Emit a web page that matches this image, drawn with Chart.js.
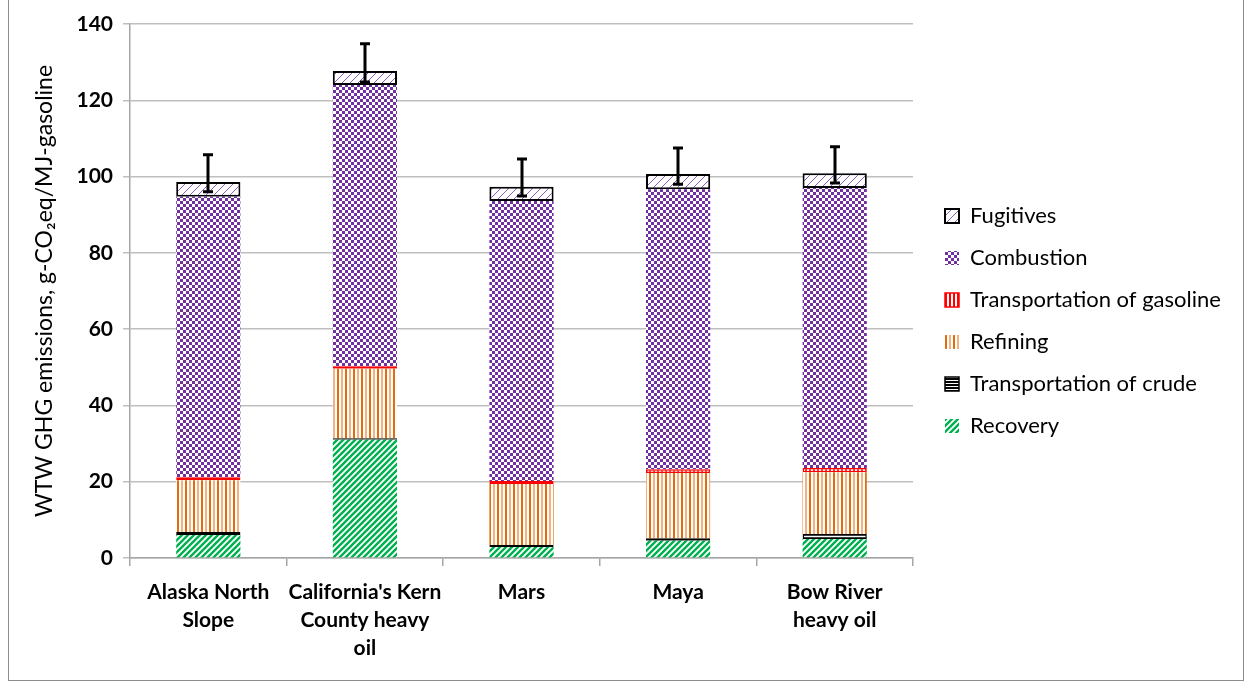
<!DOCTYPE html>
<html>
<head>
<meta charset="utf-8">
<script src="https://cdn.jsdelivr.net/npm/chart.js@4.4.0/dist/chart.umd.min.js"></script>
<style>
  body { margin: 0; background: #fff; }
  .frame {
    position: absolute; left: 8px; top: -1px;
    width: 1234px; height: 680px;
    border: 1.5px solid #8c8c8c; background: #fff;
  }
</style>
</head>
<body>
<div class="frame"><canvas id="ghg__chart" width="1234" height="680"></canvas></div>
<script>
// well-to-wheel GHG emissions per crude, stacked by stage (g-CO2eq/MJ gasoline)
const categories = [["Alaska North", "Slope"], ["California's Kern", "County heavy", "oil"], "Mars", "Maya", ["Bow River", "heavy oil"]];
const recovery = [6.0, 31.0, 2.9, 4.5, 5.0];
const crudeTransport = [0.8, 0.4, 0.5, 0.7, 1.3];
const refining = [13.6, 18.2, 16.0, 17.1, 16.2];
const gasolineTransport = [0.8, 0.7, 0.8, 1.0, 1.1];
const combustion = [73.5, 73.7, 73.4, 73.4, 73.4];
const fugitives = [3.9, 3.7, 3.7, 4.0, 3.9];
// error bar extents above / below the total
const errorPlus = [7.1, 7.1, 7.3, 6.8, 6.9];
const errorMinus = [2.6, 2.9, 2.4, 2.7, 2.6];
const yMin = 0, yMax = 140, yStep = 20;

function makePattern(w, h, draw) {
    const c = document.createElement('canvas');
    c.width = w; c.height = h;
    const g = c.getContext('2d');
    g.fillStyle = '#fff';
    g.fillRect(0, 0, w, h);
    draw(g);
    return document.getElementById('ghg__chart').getContext('2d').createPattern(c, 'repeat');
}

const greenStripes = makePattern(6, 6, function (g) {
    g.strokeStyle = '#00B050';
    g.lineWidth = 2.4;
    g.beginPath();
    g.moveTo(-3, 3); g.lineTo(3, -3);
    g.moveTo(0, 6); g.lineTo(6, 0);
    g.moveTo(3, 9); g.lineTo(9, 3);
    g.stroke();
});
const blackLines = makePattern(3, 3, function (g) {
    g.fillStyle = '#000';
    g.fillRect(0, 0, 3, 2);
});
const orangeLines = makePattern(8, 4, function (g) {
    g.fillStyle = '#E46C0A';
    g.fillRect(0, 0, 2, 4);
    g.fillStyle = '#F4B183';
    g.fillRect(4, 0, 2, 4);
});
const redLines = makePattern(4, 4, function (g) {
    g.fillStyle = '#FF0000';
    g.fillRect(0, 0, 2, 4);
});
const purpleChecks = makePattern(6, 6, function (g) {
    g.fillStyle = '#7030A0';
    g.fillRect(0, 0, 3, 3);
    g.fillRect(3, 3, 3, 3);
});
const purpleHatch = makePattern(8, 8, function (g) {
    g.strokeStyle = '#8a5cc0';
    g.lineWidth = 1;
    g.beginPath();
    g.moveTo(0, 8); g.lineTo(8, 0);
    g.moveTo(-4, 4); g.lineTo(4, -4);
    g.moveTo(4, 12); g.lineTo(12, 4);
    g.stroke();
});

// whiskers on top of each stack
const errorBars = {
    id: 'errorBars',
    afterDatasetsDraw(chart) {
        const ctx = chart.ctx;
        const y = chart.scales.y;
        const meta = chart.getDatasetMeta(chart.data.datasets.length - 1);
        ctx.save();
        ctx.strokeStyle = '#000';
        ctx.lineWidth = 3;
        meta.data.forEach(function (bar, i) {
            let total = 0;
            chart.data.datasets.forEach(function (ds) { total += ds.data[i]; });
            const top = y.getPixelForValue(total + errorPlus[i]);
            const bottom = y.getPixelForValue(total - errorMinus[i]);
            const x = Math.round(bar.x);
            ctx.beginPath();
            ctx.moveTo(x, top); ctx.lineTo(x, bottom);
            ctx.moveTo(x - 5, top); ctx.lineTo(x + 5, top);
            ctx.moveTo(x - 5, bottom); ctx.lineTo(x + 5, bottom);
            ctx.stroke();
        });
        ctx.restore();
    }
};

// fixed legend column width, then nudge the block up and to the right
const legendLayout = {
    id: 'legendLayout',
    beforeLayout(chart) {
        const lg = chart.legend;
        if (lg && !lg._fixedWidth) {
            const fit = lg.fit;
            lg.fit = function () {
                fit.call(this);
                this.width = 327;
            };
            lg._fixedWidth = true;
        }
    },
    afterLayout(chart) {
        const lg = chart.legend;
        lg.bottom = chart.height - 62;
        lg.left += 12;
        lg.right += 12;
    }
};

const font = "Lato, 'Open Sans', sans-serif";

new Chart(document.getElementById('ghg__chart'), {
    type: 'bar',
    data: {
        labels: categories,
        datasets: [
            { label: 'Recovery', data: recovery, backgroundColor: greenStripes, borderWidth: 0 },
            { label: 'Transportation of crude', data: crudeTransport, backgroundColor: blackLines, borderColor: '#000', borderWidth: 1.5, borderSkipped: false },
            { label: 'Refining', data: refining, backgroundColor: orangeLines, borderWidth: 0 },
            { label: 'Transportation of gasoline', data: gasolineTransport, backgroundColor: redLines, borderColor: '#FF0000', borderWidth: 1.5, borderSkipped: false },
            { label: 'Combustion', data: combustion, backgroundColor: purpleChecks, borderWidth: 0 },
            { label: 'Fugitives', data: fugitives, backgroundColor: purpleHatch, borderColor: '#000', borderWidth: 2, borderSkipped: false }
        ]
    },
    options: {
        responsive: false,
        animation: false,
        layout: { padding: { left: 22, right: 3, top: 24, bottom: 0 } },
        datasets: { bar: { categoryPercentage: 1, barPercentage: 0.41, inflateAmount: 0 } },
        plugins: {
            tooltip: { enabled: false },
            legend: {
                position: 'right',
                reverse: true,
                labels: {
                    color: '#000',
                    font: { family: font, size: 22 },
                    boxWidth: 14,
                    boxHeight: 14,
                    padding: 20
                }
            }
        },
        scales: {
            x: {
                stacked: true,
                grid: { offset: true, drawOnChartArea: false, color: '#a6a6a6', lineWidth: 1.5, tickLength: 8 },
                border: { color: '#a6a6a6', width: 1.5 },
                ticks: { color: '#000', font: { family: font, size: 21, weight: 'bold', lineHeight: 1.33 }, padding: 12, maxRotation: 0 },
                afterFit(scale) { scale.height = 122; }
            },
            y: {
                stacked: true,
                min: yMin,
                max: yMax,
                grid: { color: '#bfbfbf', lineWidth: 1.5, tickLength: 7 },
                border: { color: '#a6a6a6', width: 1.5 },
                ticks: { stepSize: yStep, color: '#000', font: { family: font, size: 21, weight: 'bold' }, padding: 10 },
                title: {
                    display: true,
                    text: 'WTW GHG emissions, g-CO\u2082eq/MJ-gasoline',
                    color: '#000',
                    font: { family: font, size: 23 },
                    padding: 0
                },
                afterFit(scale) { scale.width = 99; }
            }
        }
    },
    plugins: [errorBars, legendLayout]
});
</script>
</body>
</html>
